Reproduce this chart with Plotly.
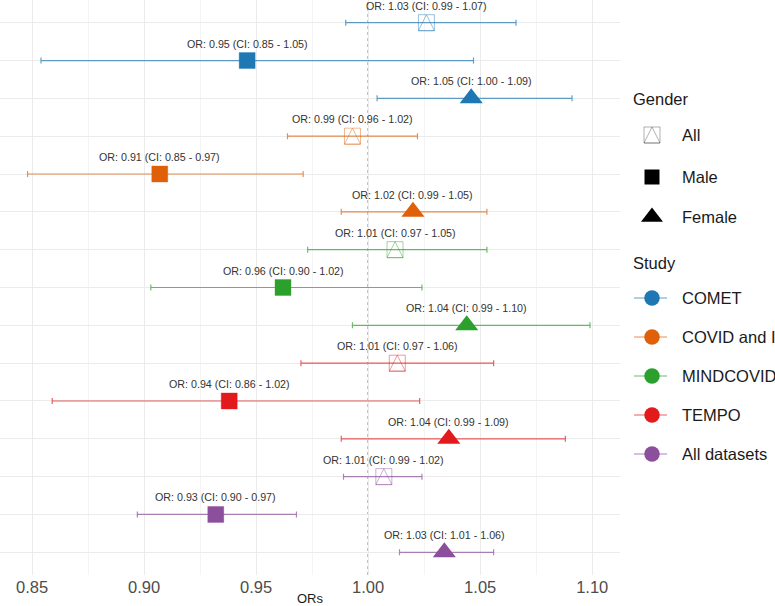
import plotly.graph_objects as go

# ---------------- data ----------------
studies = ["COMET", "COVID and I", "MINDCOVID", "TEMPO", "All datasets"]
genders = ["All", "Male", "Female"]
study_colors = ["#1F78B4", "#E0600A", "#2CA02C", "#E31A1C", "#8B4F9C"]

or_vals = [1.026, 0.946, 1.046,
           0.993, 0.907, 1.020,
           1.012, 0.962, 1.044,
           1.013, 0.938, 1.036,
           1.007, 0.932, 1.034]
ci_low = [0.990, 0.854, 1.004,
          0.964, 0.848, 0.988,
          0.973, 0.903, 0.993,
          0.970, 0.859, 0.988,
          0.989, 0.897, 1.014]
ci_high = [1.066, 1.047, 1.091,
           1.022, 0.971, 1.053,
           1.053, 1.024, 1.099,
           1.056, 1.023, 1.088,
           1.024, 0.968, 1.056]

x_ticks = [0.85, 0.90, 0.95, 1.00, 1.05, 1.10]
x_tick_labels = ["0.85", "0.90", "0.95", "1.00", "1.05", "1.10"]

row_study = [s for s in studies for g in genders]
row_gender = [g for s in studies for g in genders]
rows = list(range(1, len(or_vals) + 1))

FONT = "Liberation Sans, Arial, sans-serif"


def rgba(hex_c, a):
    h = hex_c.lstrip("#")
    r, g, b = int(h[0:2], 16), int(h[2:4], 16), int(h[4:6], 16)
    return f"rgba({r},{g},{b},{a})"


fig = go.Figure()
annotations = []

for i, y in enumerate(rows):
    c = study_colors[studies.index(row_study[i])]
    g = row_gender[i]
    err = dict(type="data", symmetric=False,
               array=[ci_high[i] - or_vals[i]],
               arrayminus=[or_vals[i] - ci_low[i]],
               color=rgba(c, 0.7), thickness=1.2, width=3)
    if g == "All":
        fig.add_trace(go.Scatter(
            x=[or_vals[i]], y=[y], mode="markers", error_x=err,
            marker=dict(symbol="square-open", size=16, color=rgba(c, 0.45),
                        line=dict(width=1, color=rgba(c, 0.45))),
            hoverinfo="skip"))
        fig.add_trace(go.Scatter(
            x=[or_vals[i]], y=[y], mode="markers",
            marker=dict(symbol="arrow-down-open", size=16, angle=180, standoff=8,
                        color=rgba(c, 0.45),
                        line=dict(width=1, color=rgba(c, 0.45))),
            hoverinfo="skip"))
    elif g == "Male":
        fig.add_trace(go.Scatter(
            x=[or_vals[i]], y=[y], mode="markers", error_x=err,
            marker=dict(symbol="square", size=16, color=c,
                        line=dict(width=0.6, color=rgba(c, 0.6))),
            hoverinfo="skip"))
    else:
        fig.add_trace(go.Scatter(
            x=[or_vals[i]], y=[y], mode="markers", error_x=err,
            marker=dict(symbol="triangle-up", size=20, color=c, line=dict(width=0)),
            hoverinfo="skip"))
    annotations.append(dict(
        x=or_vals[i], y=y, xref="x", yref="y",
        text=f"OR: {or_vals[i]:.2f} (CI: {ci_low[i]:.2f} - {ci_high[i]:.2f})",
        showarrow=False, yshift=17, font=dict(family=FONT, size=10.7, color="#333333")))

# ---------------- manual legend (pixel axis on the right) ----------------
leg_title_x = 631
leg_sym_x = 652
leg_text_x = 680
gender_title_y = 99
gender_item_y = [135, 177, 217]
study_title_y = 263
study_item_y = [298, 337, 376, 415, 454]
leg_font = dict(family=FONT, size=16.5, color="#1a1a1a")

# Gender symbols
fig.add_trace(go.Scatter(x=[leg_sym_x], y=[gender_item_y[0]], xaxis="x2", yaxis="y2",
                         mode="markers", hoverinfo="skip",
                         marker=dict(symbol="square-open", size=16, color="rgba(80,80,80,0.45)",
                                     line=dict(width=1, color="rgba(80,80,80,0.45)"))))
fig.add_trace(go.Scatter(x=[leg_sym_x], y=[gender_item_y[0]], xaxis="x2", yaxis="y2",
                         mode="markers", hoverinfo="skip",
                         marker=dict(symbol="arrow-down-open", size=16, angle=180, standoff=8,
                                     color="rgba(80,80,80,0.45)",
                                     line=dict(width=1, color="rgba(80,80,80,0.45)"))))
fig.add_trace(go.Scatter(x=[leg_sym_x], y=[gender_item_y[1]], xaxis="x2", yaxis="y2",
                         mode="markers", hoverinfo="skip",
                         marker=dict(symbol="square", size=15, color="black")))
fig.add_trace(go.Scatter(x=[leg_sym_x], y=[gender_item_y[2]], xaxis="x2", yaxis="y2",
                         mode="markers", hoverinfo="skip",
                         marker=dict(symbol="triangle-up", size=19, color="black")))

# Study symbols
for k, sy in enumerate(study_item_y):
    c = study_colors[k]
    fig.add_trace(go.Scatter(x=[leg_title_x + 3, leg_sym_x + 15], y=[sy, sy], xaxis="x2", yaxis="y2",
                             mode="lines", hoverinfo="skip",
                             line=dict(color=rgba(c, 0.7), width=1.2)))
    fig.add_trace(go.Scatter(x=[leg_sym_x], y=[sy], xaxis="x2", yaxis="y2",
                             mode="markers", hoverinfo="skip",
                             marker=dict(symbol="circle", size=15.5, color=c)))

annotations.append(dict(x=leg_title_x, y=gender_title_y, xref="x2", yref="y2", text="Gender",
                        showarrow=False, xanchor="left", yanchor="middle", font=leg_font))
annotations.append(dict(x=leg_title_x, y=study_title_y, xref="x2", yref="y2", text="Study",
                        showarrow=False, xanchor="left", yanchor="middle", font=leg_font))
for g, gy in zip(genders, gender_item_y):
    annotations.append(dict(x=leg_text_x, y=gy, xref="x2", yref="y2", text=g,
                            showarrow=False, xanchor="left", yanchor="middle", font=leg_font))
for s, sy in zip(studies, study_item_y):
    annotations.append(dict(x=leg_text_x, y=sy, xref="x2", yref="y2", text=s,
                            showarrow=False, xanchor="left", yanchor="middle", font=leg_font))

# axis title
annotations.append(dict(x=0.4, y=1 - 598 / 606, xref="paper", yref="paper", text="ORs",
                        showarrow=False, xanchor="center", yanchor="middle",
                        font=dict(family=FONT, size=13, color="#1a1a1a")))

fig.update_layout(
    width=775, height=606,
    margin=dict(l=0, r=0, t=0, b=0),
    plot_bgcolor="white", paper_bgcolor="white",
    showlegend=False,
    font=dict(family=FONT),
    annotations=annotations,
    xaxis=dict(domain=[0, 620 / 775], range=[0.8357, 1.1124],
               tickvals=x_ticks, ticktext=x_tick_labels,
               showgrid=True, gridcolor="#EBEBEB", gridwidth=1,
               minor=dict(tickvals=[0.875, 0.925, 0.975, 1.025, 1.075], showgrid=True,
                          gridcolor="#F4F4F4", gridwidth=0.7),
               zeroline=False, showline=False, ticks="",
               tickfont=dict(family=FONT, size=16.5, color="#4D4D4D")),
    yaxis=dict(domain=[31 / 606, 1], range=[len(rows) + 0.6, 0.4],
               tickvals=rows, showticklabels=False,
               showgrid=True, gridcolor="#EBEBEB", gridwidth=1,
               zeroline=False, showline=False, ticks=""),
    xaxis2=dict(domain=[620 / 775, 1], range=[620, 775], visible=False, anchor="y2",
                fixedrange=True),
    yaxis2=dict(domain=[0, 1], range=[606, 0], visible=False, anchor="x2", fixedrange=True),
    shapes=[dict(type="line", xref="x", yref="y domain", x0=1.0, x1=1.0, y0=0, y1=1,
                 line=dict(color="#555555", width=1, dash="dot"), layer="below")],
)

fig.write_html("out.html")
